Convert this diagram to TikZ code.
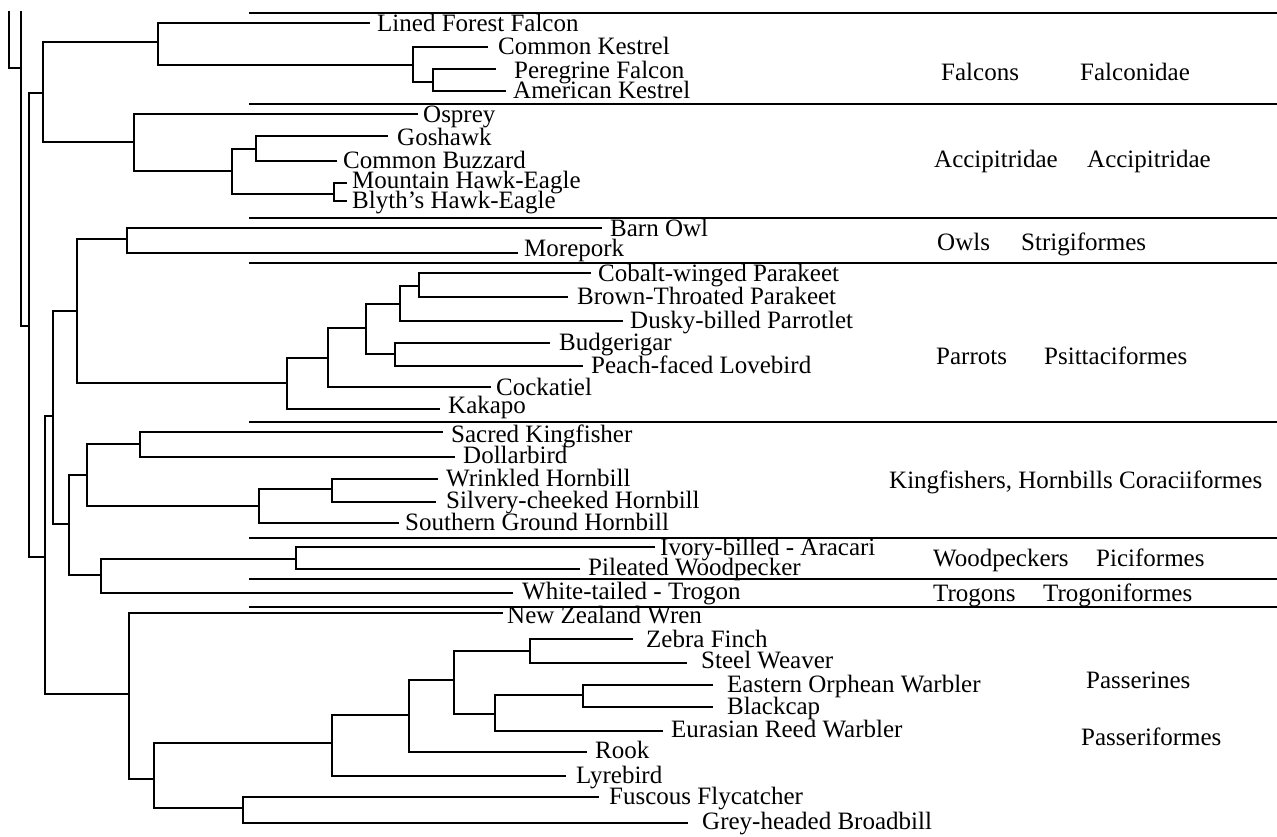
\documentclass[tikz,border=0pt]{standalone}
\usepackage{fontspec}
\setmainfont{Liberation Serif}

\tikzset{
  branch/.style={line width=2.6pt},
  leaf/.style={anchor=base west, inner sep=0pt, text height=16pt, text depth=3pt},
  group/.style={anchor=base west, inner sep=0pt, text height=16pt, text depth=3pt}
}

\begin{document}
\begin{tikzpicture}[x=1pt, y=-1pt, font=\fontsize{25}{30}\selectfont]
  \useasboundingbox (0,0) rectangle (1277,836);
  % inner nodes of the tree
  \coordinate (top0) at (9,11);   \coordinate (top1) at (21,11);
  \coordinate (n1) at (21,68);    \coordinate (n2) at (29,326);
  \coordinate (rapt) at (43,93);  \coordinate (n3) at (45,557);
  \coordinate (n4) at (53,416);   \coordinate (pass) at (129,694);
  \coordinate (n5) at (77,311);   \coordinate (n6) at (69,524);
  \coordinate (falc) at (158,42); \coordinate (n7) at (413,65);
  \coordinate (n8) at (433,82);   \coordinate (acc) at (134,142);
  \coordinate (n9) at (232,171);  \coordinate (n10) at (256,149);
  \coordinate (n11) at (334,194); \coordinate (owls) at (127,239);
  \coordinate (parr) at (287,383);\coordinate (n13) at (328,358);
  \coordinate (n14) at (366,328); \coordinate (n15) at (400,304);
  \coordinate (n16) at (395,354); \coordinate (n17) at (419,286);
  \coordinate (n18) at (87,475);  \coordinate (n19) at (101,575);
  \coordinate (king) at (140,444);\coordinate (horn) at (259,506);
  \coordinate (n22) at (332,489); \coordinate (wood) at (296,559);
  \coordinate (n24) at (154,779); \coordinate (n25) at (332,743);
  \coordinate (n26) at (243,808); \coordinate (n27) at (409,715);
  \coordinate (n28) at (454,680); \coordinate (n29) at (530,651);
  \coordinate (n30) at (495,714); \coordinate (n31) at (583,695);
  % leaves: name / line end / text x / line y / baseline / text
  \foreach \nm/\xe/\xt/\y/\yb/\txt in {
      lff/370/377/23/31/{Lined Forest Falcon}, ck/488/498/47/54/{Common Kestrel},
      pf/496/514/69/78/{Peregrine Falcon}, ak/506/513/91/98/{American Kestrel},
      osp/418/423/114/122/{Osprey}, gos/388/397/136/145/{Goshawk},
      cb/337/343/161/168/{Common Buzzard}, mhe/347/352/183/188/{Mountain Hawk-Eagle},
      bhe/347/352/201/208/{Blyth’s Hawk-Eagle}, bo/602/610/228/236/{Barn Owl},
      mp/518/524/253/256/{Morepork}, cwp/591/598/273/281/{Cobalt-winged Parakeet},
      btp/568/577/297/304/{Brown-Throated Parakeet}, dbp/623/630/321/328/{Dusky-billed Parrotlet},
      bud/550/559/343/350/{Budgerigar}, pfl/583/591/366/373/{Peach-faced Lovebird},
      coc/491/496/387/395/{Cockatiel}, kak/440/448/409/413/{Kakapo},
      sk/443/451/432/442/{Sacred Kingfisher}, db/455/463/457/463/{Dollarbird},
      wh/438/446/479/486/{Wrinkled Hornbill}, sch/436/446/502/508/{Silvery-cheeked Hornbill},
      sgh/399/405/523/530/{Southern Ground Hornbill}, iba/655/660/547/555/{Ivory-billed - Aracari},
      pw/580/588/569/575/{Pileated Woodpecker}, wtt/513/522/593/599/{White-tailed - Trogon},
      nzw/503/507/613/623/{New Zealand Wren}, zf/633/646/639/647/{Zebra Finch},
      sw/687/701/663/668/{Steel Weaver}, eow/713/727/685/692/{Eastern Orphean Warbler},
      bc/713/727/707/714/{Blackcap}, erw/663/671/731/737/{Eurasian Reed Warbler},
      rk/587/595/752/758/{Rook}, lb/566/576/776/783/{Lyrebird},
      ff/599/609/797/804/{Fuscous Flycatcher}, ghb/688/702/823/829/{Grey-headed Broadbill}}
  {
    \coordinate (\nm-end) at (\xe,\y);
    \node[leaf] (\nm) at (\xt,\yb) {\txt};
  }
  % branches
  \draw[branch] (top0) |- (n1);
  \draw[branch] (n1) -- (top1);
  \foreach \a/\b in {n1/n2, n2/rapt, n2/n3, n3/n4, n3/pass, n4/n5, n4/n6,
      rapt/falc, rapt/acc, falc/lff-end, falc/n7, n7/ck-end, n7/n8, n8/pf-end, n8/ak-end,
      acc/osp-end, acc/n9, n9/n10, n9/n11, n10/gos-end, n10/cb-end, n11/mhe-end, n11/bhe-end,
      n5/owls, n5/parr, owls/bo-end, owls/mp-end,
      parr/n13, parr/kak-end, n13/n14, n13/coc-end, n14/n15, n14/n16, n15/n17, n15/dbp-end,
      n17/cwp-end, n17/btp-end, n16/bud-end, n16/pfl-end,
      n6/n18, n6/n19, n18/king, n18/horn, king/sk-end, king/db-end, horn/n22, horn/sgh-end,
      n22/wh-end, n22/sch-end, n19/wood, n19/wtt-end, wood/iba-end, wood/pw-end,
      pass/nzw-end, pass/n24, n24/n25, n24/n26, n25/n27, n25/lb-end, n27/n28, n27/rk-end,
      n28/n29, n28/n30, n29/zf-end, n29/sw-end, n30/n31, n30/erw-end, n31/eow-end, n31/bc-end,
      n26/ff-end, n26/ghb-end}
    \draw[branch] (\a) |- (\b);
  % group separators
  \foreach \y in {13,104,218,263,422,538,579,607}
    \draw[branch] (249,\y) -- (1277,\y);
  % group names
  \node[group] (g1) at (941,80) {Falcons};
  \node[group] (o1) at (1080,80) {Falconidae};
  \node[group] (g2) at (934,167) {Accipitridae};
  \node[group] (o2) at (1087,167) {Accipitridae};
  \node[group] (g3) at (937,250) {Owls};
  \node[group] (o3) at (1021,250) {Strigiformes};
  \node[group] (g4) at (936,364) {Parrots};
  \node[group] (o4) at (1044,364) {Psittaciformes};
  \node[group] (g5) at (889,488) {Kingfishers, Hornbills};
  \node[group] (o5) at (1119,488) {Coraciiformes};
  \node[group] (g6) at (933,566) {Woodpeckers};
  \node[group] (o6) at (1096,566) {Piciformes};
  \node[group] (g7) at (933,601) {Trogons};
  \node[group] (o7) at (1043,601) {Trogoniformes};
  \node[group] (g8) at (1086,688) {Passerines};
  \node[group] (o8) at (1081,745) {Passeriformes};
\end{tikzpicture}
\end{document}
